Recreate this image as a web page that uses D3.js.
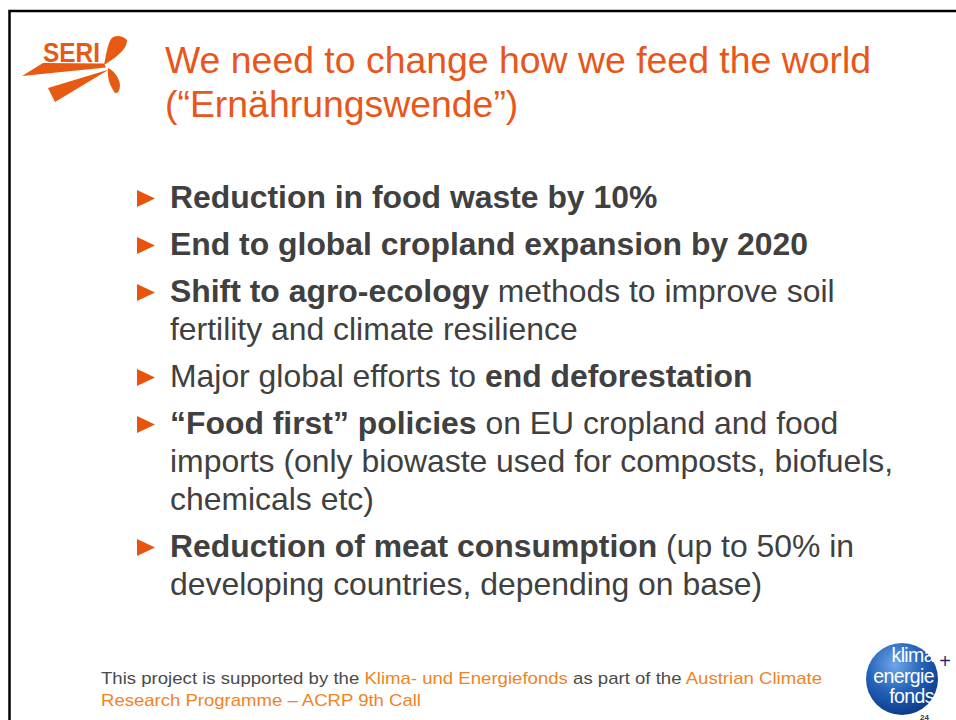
<!DOCTYPE html>
<html lang="en">
<head>
<meta charset="UTF-8">
<title>We need to change how we feed the world</title>
<script src="https://cdnjs.cloudflare.com/ajax/libs/d3/7.8.5/d3.min.js"></script>
<style>
    body {
        margin: 0;
        background: #ffffff;
        overflow: hidden;
    }
    svg {
        display: block;
        font-family: 'Liberation Sans', Arial, sans-serif;
    }
</style>
</head>
<body>
<div id="slide"></div>

<script>
// slide content
const titleLines = ["We need to change how we feed the world", "(\u201CErnährungswende\u201D)"];

// each bullet: list of lines, each line a list of [text, bold] segments
const bullets = [
    [[["Reduction in food waste by 10%", true]]],
    [[["End to global cropland expansion by 2020", true]]],
    [[["Shift to agro-ecology", true], [" methods to improve soil", false]],
     [["fertility and climate resilience", false]]],
    [[["Major global efforts to ", false], ["end deforestation", true]]],
    [[["\u201CFood first\u201D policies", true], [" on EU cropland and food", false]],
     [["imports (only biowaste used for composts, biofuels,", false]],
     [["chemicals etc)", false]]],
    [[["Reduction of meat consumption", true], [" (up to 50% in", false]],
     [["developing countries, depending on base)", false]]]
];

// footer: [text, highlighted]
const footerLines = [
    [["This project is supported by the ", false], ["Klima- und Energiefonds", true], [" as part of the ", false], ["Austrian Climate", true]],
    [["Research Programme \u2013 ACRP 9th Call", true]]
];
const footerWidths = [721, 320];

const logoWords = ["klima", "energie", "fonds"];
const pageNumber = "24";

const W = 956, H = 720;
const orange = "#e8561a", bulletOrange = "#e8540c", footOrange = "#ef8424", textCol = "#404040";

const svg = d3.select("#slide").append("svg")
    .attr("width", W)
    .attr("height", H);

const defs = svg.append("defs");
const grad = defs.append("radialGradient")
    .attr("id", "klimaGrad")
    .attr("cx", "40%").attr("cy", "30%").attr("r", "70%");
grad.append("stop").attr("offset", "0%").attr("stop-color", "#6fa8e8");
grad.append("stop").attr("offset", "55%").attr("stop-color", "#2462b8");
grad.append("stop").attr("offset", "100%").attr("stop-color", "#0b3d8c");

// slide frame (only top and left edges visible)
svg.append("rect")
    .attr("x", 9.5).attr("y", 11)
    .attr("width", W + 20).attr("height", H + 20)
    .attr("fill", "none")
    .attr("stroke", "#000")
    .attr("stroke-width", 2.5);

// SERI logo
const logo = svg.append("g").attr("fill", "#e85a12");
logo.append("text")
    .attr("x", 43).attr("y", 62)
    .attr("font-size", 27)
    .attr("font-weight", "bold")
    .attr("textLength", 57)
    .attr("lengthAdjust", "spacingAndGlyphs")
    .attr("font-family", "'Liberation Sans Narrow', 'Liberation Sans', sans-serif")
    .text("SERI");
logo.append("path").attr("d", "M22,76 L43,63 L104,63.5 L106,67.5 Z");
logo.append("path").attr("d", "M48,88 L109,69.5 L55,102 Z");
logo.append("path").attr("d", "M104,65 C106,56 107,46 111,39 C114,35 122,35 127,40 C127,47 122,54 104,65 Z");
logo.append("path").attr("d", "M108,68 C114,71 119,77 120,85 C120,91 117,94 115,93 C110,86 107,78 108,68 Z");

// title
svg.append("g").selectAll("text")
    .data(titleLines)
    .join("text")
    .attr("x", 165)
    .attr("y", (d, i) => 73 + i * 44)
    .attr("font-size", 37.4)
    .attr("fill", orange)
    .text(d => d);

// bullets
const lineGap = 38, itemGap = 47;
let y = 208;
const bulletG = svg.append("g");
bullets.forEach(item => {
    bulletG.append("path")
        .attr("d", `M137,${y - 18} L155,${y - 9.5} L137,${y - 1} Z`)
        .attr("fill", bulletOrange);
    item.forEach((line, li) => {
        const t = bulletG.append("text")
            .attr("x", 170)
            .attr("y", y + li * lineGap)
            .attr("font-size", 31.9)
            .attr("fill", textCol);
        t.selectAll("tspan")
            .data(line)
            .join("tspan")
            .attr("font-weight", d => d[1] ? "bold" : "normal")
            .text(d => d[0]);
    });
    y += (item.length - 1) * lineGap + itemGap;
});

// footer
const foot = svg.append("g");
footerLines.forEach((line, i) => {
    const t = foot.append("text")
        .attr("x", 101)
        .attr("y", 684 + i * 22)
        .attr("font-size", 17)
        .attr("textLength", footerWidths[i])
        .attr("lengthAdjust", "spacingAndGlyphs")
        .attr("fill", "#4a4a4a");
    t.selectAll("tspan")
        .data(line)
        .join("tspan")
        .attr("fill", d => d[1] ? footOrange : "#4a4a4a")
        .text(d => d[0]);
});

// klima energie fonds logo
const kl = svg.append("g");
kl.append("circle")
    .attr("cx", 902).attr("cy", 679).attr("r", 36)
    .attr("fill", "url(#klimaGrad)");
kl.selectAll("text.word")
    .data(logoWords)
    .join("text")
    .attr("class", "word")
    .attr("x", 934)
    .attr("y", (d, i) => 662 + i * 20.5)
    .attr("text-anchor", "end")
    .attr("font-size", 19.5)
    .attr("fill", "#ffffff")
    .attr("letter-spacing", -0.6)
    .text(d => d);
kl.append("text")
    .attr("x", 945).attr("y", 668)
    .attr("text-anchor", "middle")
    .attr("font-size", 20)
    .attr("fill", "#1c2f6e")
    .text("+");
svg.append("text")
    .attr("x", 920).attr("y", 719.5)
    .attr("font-size", 8)
    .attr("font-weight", "bold")
    .attr("fill", "#333")
    .text(pageNumber);
</script>
</body>
</html>
